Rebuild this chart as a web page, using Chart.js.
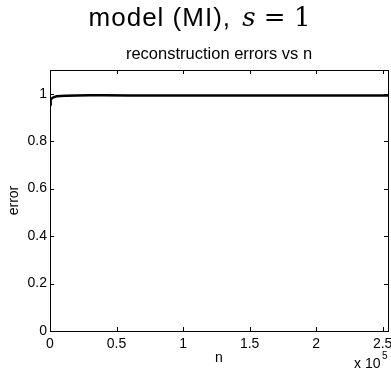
<!DOCTYPE html>
<html>
<head>
<meta charset="utf-8">
<script src="https://cdn.jsdelivr.net/npm/chart.js@4"></script>
<style>
  html, body { margin: 0; padding: 0; background: #fff; }
  #wrap { position: relative; width: 391px; height: 370px; }
  #errChart { position: absolute; left: 0; top: 0; }
  #bigTitle {
    position: absolute; left: 4px; top: 2px; width: 391px; text-align: center;
    font-family: "Liberation Sans", Arial, sans-serif; font-size: 26px; color: #000;
    line-height: 30px; white-space: nowrap; z-index: 2;
  }
  #bigTitle .t { letter-spacing: 1px; }
  #bigTitle .m { font-family: "DejaVu Serif", "Liberation Serif", serif; line-height: 30px; margin-left: 4px; }
  #bigTitle .i { font-style: italic; }
</style>
</head>
<body>
<div id="wrap">
  <canvas id="errChart" width="391" height="370"></canvas>
  <div id="bigTitle"><span class="t">model (MI),</span> <span class="m"><span class="i">s</span> = 1</span></div>
</div>
<script>
// reconstruction error against number of samples n
const nValues = [0, 500, 1000, 2000, 3000, 5000, 8000, 12000, 20000, 30000, 40000, 60000, 100000, 150000, 200000, 254000];
const errorValues = [0.955, 0.972, 0.979, 0.983, 0.986, 0.989, 0.990, 0.991, 0.993, 0.994, 0.994, 0.993, 0.993, 0.993, 0.993, 0.993];
const xTicks = [0, 50000, 100000, 150000, 200000, 250000];
const yTicks = [0, 0.2, 0.4, 0.6, 0.8, 1];

const font = "'Liberation Sans', Arial, sans-serif";

// MATLAB style box, inward ticks and the exponent label
const boxPlugin = {
    id: 'box',
    afterDraw(chart) {
        const c = chart.ctx;
        const a = chart.chartArea;
        const xs = chart.scales.x;
        const ys = chart.scales.y;
        c.save();
        c.strokeStyle = '#000';
        c.lineWidth = 1;
        c.strokeRect(Math.round(a.left) + 0.5, Math.round(a.top) + 0.5,
            Math.round(a.right - a.left), Math.round(a.bottom - a.top));
        c.beginPath();
        xTicks.forEach(v => {
            const px = Math.round(xs.getPixelForValue(v)) + 0.5;
            c.moveTo(px, a.bottom); c.lineTo(px, a.bottom - 4);
            c.moveTo(px, a.top); c.lineTo(px, a.top + 4);
        });
        yTicks.forEach(v => {
            const py = Math.round(ys.getPixelForValue(v)) + 0.5;
            c.moveTo(a.left, py); c.lineTo(a.left + 4, py);
            c.moveTo(a.right, py); c.lineTo(a.right - 4, py);
        });
        c.stroke();
        c.fillStyle = '#000';
        c.textBaseline = 'alphabetic';
        c.textAlign = 'left';
        c.font = '14px ' + font;
        c.fillText('x 10', 354, 368);
        c.font = '10px ' + font;
        c.fillText('5', 382, 359);
        c.restore();
    }
};

const ctx = document.getElementById('errChart').getContext('2d');
const errChart = new Chart(ctx, {
    type: 'line',
    data: {
        datasets: [{
            label: 'error',
            data: nValues.map((n, i) => ({ x: n, y: errorValues[i] })),
            borderColor: '#000',
            borderWidth: 2.5,
            pointRadius: 0,
            tension: 0,
            fill: false
        }]
    },
    options: {
        responsive: false,
        animation: false,
        devicePixelRatio: 1,
        layout: { padding: { top: 40, right: 3, left: 0, bottom: 0 } },
        plugins: {
            legend: { display: false },
            tooltip: { enabled: false },
            title: {
                display: true,
                fullSize: false,
                text: 'reconstruction errors vs n',
                color: '#000',
                font: { family: font, size: 16.5, weight: 'normal' },
                padding: { top: 5, bottom: 5.2 }
            }
        },
        scales: {
            x: {
                type: 'linear',
                min: 0,
                max: 254000,
                afterBuildTicks: s => { s.ticks = xTicks.map(v => ({ value: v })); },
                afterFit: s => { s.height = 39; s.paddingRight = 0; s.paddingLeft = 0; },
                grid: { display: false, drawTicks: false },
                border: { display: false },
                ticks: {
                    color: '#000',
                    padding: 5,
                    maxRotation: 0,
                    font: { family: font, size: 14 },
                    callback: v => String(v / 100000)
                },
                title: {
                    display: true,
                    text: 'n',
                    color: '#000',
                    font: { family: font, size: 14 },
                    padding: { top: 0, bottom: 3 }
                }
            },
            y: {
                min: 0,
                max: 1.1,
                afterBuildTicks: s => { s.ticks = yTicks.map(v => ({ value: v })); },
                afterFit: s => { s.width = 50; s.paddingTop = 0; s.paddingBottom = 0; },
                grid: { display: false, drawTicks: false },
                border: { display: false },
                ticks: {
                    color: '#000',
                    padding: 3,
                    font: { family: font, size: 14 },
                    callback: v => String(Math.round(v * 10) / 10)
                },
                title: {
                    display: true,
                    text: 'error',
                    color: '#000',
                    font: { family: font, size: 14 },
                    padding: { top: 6, bottom: 0 }
                }
            }
        }
    },
    plugins: [boxPlugin]
});
</script>
</body>
</html>
